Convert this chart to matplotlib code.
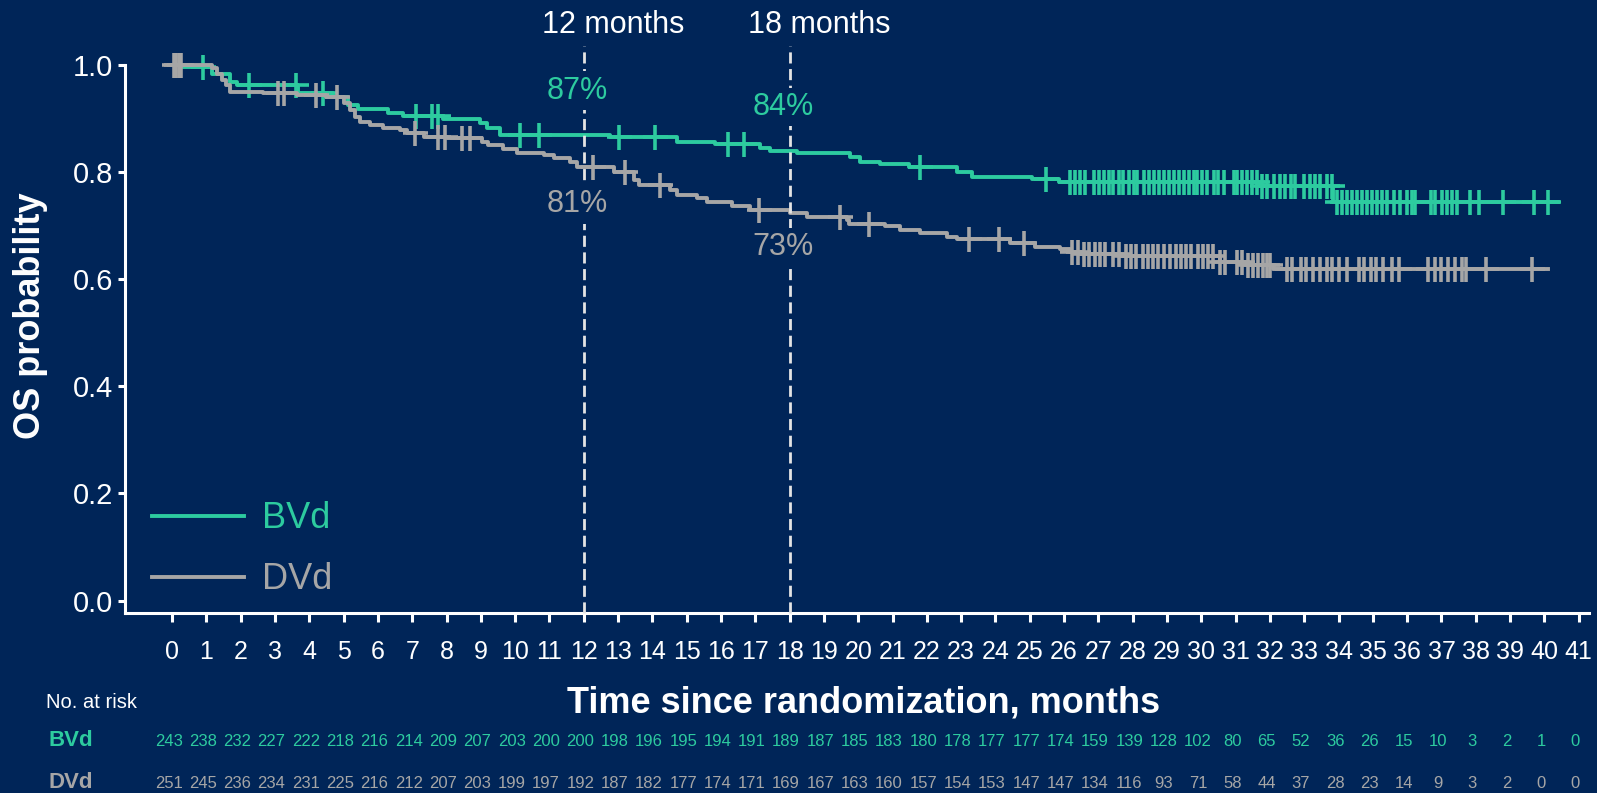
import numpy as np
import matplotlib
matplotlib.use('Agg')
import matplotlib.pyplot as plt
from matplotlib.transforms import blended_transform_factory

plt.rcParams['font.family'] = ['Liberation Sans', 'DejaVu Sans']

BG = '#002558'
GREEN = '#2dcb9f'
GREY = '#a6a6a6'
DASH = '#e4e4e4'

# Kaplan-Meier steps: time of each drop and survival after it
bvd_t = [0, 0.33, 1.16, 1.69, 1.89, 3.68, 4.7, 5.13, 5.43, 6.3, 6.74, 7.9, 8.98, 9.17,
         9.56, 12.77, 14.71, 15.83, 17.14, 17.43, 18.21, 19.77, 20.06, 20.64, 21.47,
         22.88, 23.31, 25.06, 25.84, 31.7, 33.85]
bvd_s = [1.0, 0.996, 0.984, 0.969, 0.963, 0.948, 0.941, 0.925, 0.917, 0.911, 0.905, 0.899,
         0.891, 0.882, 0.87, 0.865, 0.857, 0.852, 0.846, 0.84, 0.835, 0.828, 0.819, 0.815,
         0.81, 0.801, 0.791, 0.787, 0.781, 0.774, 0.745]
bvd_end = 40.4
bvd_cens = [0.91, 2.23, 3.6, 4.39, 7.11, 7.57, 7.74, 10.13, 10.7, 13.04, 14.09, 16.2, 16.66,
            21.8, 25.48, 26.18, 26.33, 26.47, 26.62, 26.86, 27.01, 27.15, 27.3, 27.44,
            27.59, 27.73, 27.88, 28.03, 28.12, 28.32, 28.47, 28.61, 28.76, 28.9, 29.05,
            29.19, 29.34, 29.49, 29.63, 29.78, 29.87, 30.02, 30.16, 30.36, 30.5, 30.65,
            30.94, 31.04, 31.18, 31.33, 31.48, 31.62, 31.77, 31.91, 32.11, 32.3, 32.45,
            32.6, 32.74, 32.98, 33.18, 33.32, 33.47, 33.66, 33.81, 33.96, 34.1, 34.25, 34.4,
            34.55, 34.68, 34.83, 34.97, 35.12, 35.27, 35.41, 35.61, 35.8, 35.99, 36.14,
            36.24, 36.68, 36.82, 37.02, 37.16, 37.31, 37.45, 37.83, 38.09, 38.8, 39.7, 40.1]

dvd_t = [0, 1.16, 1.3, 1.45, 1.57, 1.69, 2.66, 3.63, 4.5, 5.0, 5.19, 5.34, 5.48, 5.77, 6.16,
         6.65, 6.84, 7.33, 8.0, 9.03, 9.22, 9.66, 10.05, 10.83, 11.12, 11.6, 11.8, 12.87,
         13.45, 13.6, 14.52, 14.71, 15.29, 15.58, 16.32, 16.85, 18.02, 18.5, 19.67, 19.72,
         20.79, 21.22, 21.8, 22.59, 22.88, 24.43, 25.16, 25.89, 26.18, 26.5, 27.64, 30.55,
         31.33, 32.1]
dvd_s = [1.0, 0.994, 0.984, 0.972, 0.963, 0.95, 0.947, 0.944, 0.941, 0.929, 0.916, 0.903,
         0.894, 0.888, 0.882, 0.879, 0.874, 0.866, 0.863, 0.857, 0.851, 0.843, 0.835, 0.832,
         0.827, 0.819, 0.81, 0.801, 0.785, 0.776, 0.767, 0.757, 0.751, 0.745, 0.737, 0.73,
         0.723, 0.717, 0.711, 0.704, 0.699, 0.692, 0.686, 0.679, 0.675, 0.667, 0.661, 0.656,
         0.651, 0.648, 0.643, 0.633, 0.627, 0.62]
dvd_end = 40.1
dvd_cens = [0.05, 0.12, 0.2, 0.27, 3.08, 3.27, 4.19, 4.8, 7.08, 7.76, 7.96, 8.45, 8.69,
            12.28, 13.21, 14.21, 17.12, 19.46, 20.3, 23.22, 24.09, 24.82, 26.23, 26.4,
            26.57, 26.72, 26.9, 27.05, 27.2, 27.44, 27.6, 27.8, 27.95, 28.1, 28.3, 28.45,
            28.6, 28.75, 28.9, 29.1, 29.25, 29.4, 29.55, 29.7, 29.9, 30.05, 30.2, 30.35,
            30.55, 30.7, 31.05, 31.2, 31.35, 31.5, 31.65, 31.8, 31.9, 32.0, 32.5, 32.65,
            32.9, 33.05, 33.25, 33.45, 33.65, 33.82, 34.0, 34.25, 34.6, 34.75, 34.95, 35.1,
            35.3, 35.55, 35.75, 36.6, 36.8, 37.0, 37.2, 37.4, 37.6, 37.7, 38.3, 39.65]

months = list(range(0, 42))
bvd_risk = [243, 238, 232, 227, 222, 218, 216, 214, 209, 207, 203, 200, 200, 198, 196, 195,
            194, 191, 189, 187, 185, 183, 180, 178, 177, 177, 174, 159, 139, 128, 102, 80,
            65, 52, 36, 26, 15, 10, 3, 2, 1, 0]
dvd_risk = [251, 245, 236, 234, 231, 225, 216, 212, 207, 203, 199, 197, 192, 187, 182, 177,
            174, 171, 169, 167, 163, 160, 157, 154, 153, 147, 147, 134, 116, 93, 71, 58, 44,
            37, 28, 23, 14, 9, 3, 2, 0, 0]

milestones = [12, 18]
bvd_pct = [87, 84]
dvd_pct = [81, 73]


def km(ax, t, s, end, cens, color, label):
    t = np.append(t, end)
    s = np.append(s, s[-1])
    line, = ax.step(t, s, where='post', color=color, lw=2.8, label=label, zorder=3)
    idx = np.searchsorted(t, cens, side='right') - 1
    ax.plot(cens, s[idx], ls='none', marker='+', ms=18, mew=2.6, color=color, zorder=3)
    return line


fig = plt.figure(figsize=(15.97, 7.93), dpi=100, facecolor=BG)
ax = fig.add_axes([0.0783, 0.227, 0.9167, 0.7315], facecolor=BG)

l1 = km(ax, bvd_t, bvd_s, bvd_end, bvd_cens, GREEN, 'BVd')
l2 = km(ax, dvd_t, dvd_s, dvd_end, dvd_cens, GREY, 'DVd')

y0 = -0.0233
ax.set_xlim(-1.37, 41.3)
ax.set_ylim(y0, 1.06)
ax.set_xticks(months)
ax.set_yticks([0, 0.2, 0.4, 0.6, 0.8, 1.0])
ax.set_yticklabels(['0.0', '0.2', '0.4', '0.6', '0.8', '1.0'])
for side in ['top', 'right']:
    ax.spines[side].set_visible(False)
for side in ['left', 'bottom']:
    ax.spines[side].set_color('white')
    ax.spines[side].set_linewidth(2.2)
ax.spines['left'].set_bounds(y0, 1.0)
ax.tick_params(axis='x', colors='white', labelsize=18, length=6.5, width=2.2, pad=13)
ax.tick_params(axis='y', colors='white', labelsize=21, length=5, width=2.2, pad=3.5)

# milestone guides
for m, pg, pd in zip(milestones, bvd_pct, dvd_pct):
    ax.plot([m, m], [y0, 1.035], ls=(0, (4, 2)), color=DASH, lw=2, zorder=4, clip_on=False)
    ax.text(m + 0.85, 1.074, f'{m} months', color='white', fontsize=22,
            ha='center', va='center', clip_on=False)
    box = dict(facecolor=BG, edgecolor='none', pad=3)
    ax.text(m - 0.18, pg / 100 + 0.082, f'{pg}%', color=GREEN, fontsize=22,
            ha='center', va='center', bbox=box, zorder=5)
    ax.text(m - 0.18, pd / 100 - 0.07, f'{pd}%', color=GREY, fontsize=22,
            ha='center', va='center', bbox=box, zorder=5)

ax.legend(handles=[l1, l2], loc='lower left', bbox_to_anchor=(0.0184, 0.027),
          frameon=False, fontsize=26, handlelength=2.55, handletextpad=0.5,
          labelspacing=0.72, borderpad=0, borderaxespad=0, labelcolor='linecolor')

fig.text(31 / 1597, 1 - 316 / 793, 'OS probability', rotation=90, color='white',
         fontsize=26, fontweight='bold', ha='center', va='center')
fig.text(864 / 1597, 1 - 703 / 793, 'Time since randomization, months', color='white',
         fontsize=26, fontweight='bold', ha='center', va='center')

# number at risk table
fig.text(46 / 1597, 1 - 702 / 793, 'No. at risk', color='white', fontsize=14.5,
         ha='left', va='center')
tr = blended_transform_factory(ax.transData, fig.transFigure)
for lab, risk, col, yp in [('BVd', bvd_risk, GREEN, 741), ('DVd', dvd_risk, GREY, 783)]:
    fig.text(48 / 1597, 1 - yp / 793, lab, color=col, fontsize=16, fontweight='bold',
             ha='left', va='center')
    for m, n in zip(months, risk):
        ax.text(m - 0.1, 1 - yp / 793, str(n), transform=tr, color=col, fontsize=12,
                ha='center', va='center')

fig.savefig('out.png', dpi=100, facecolor=BG)
